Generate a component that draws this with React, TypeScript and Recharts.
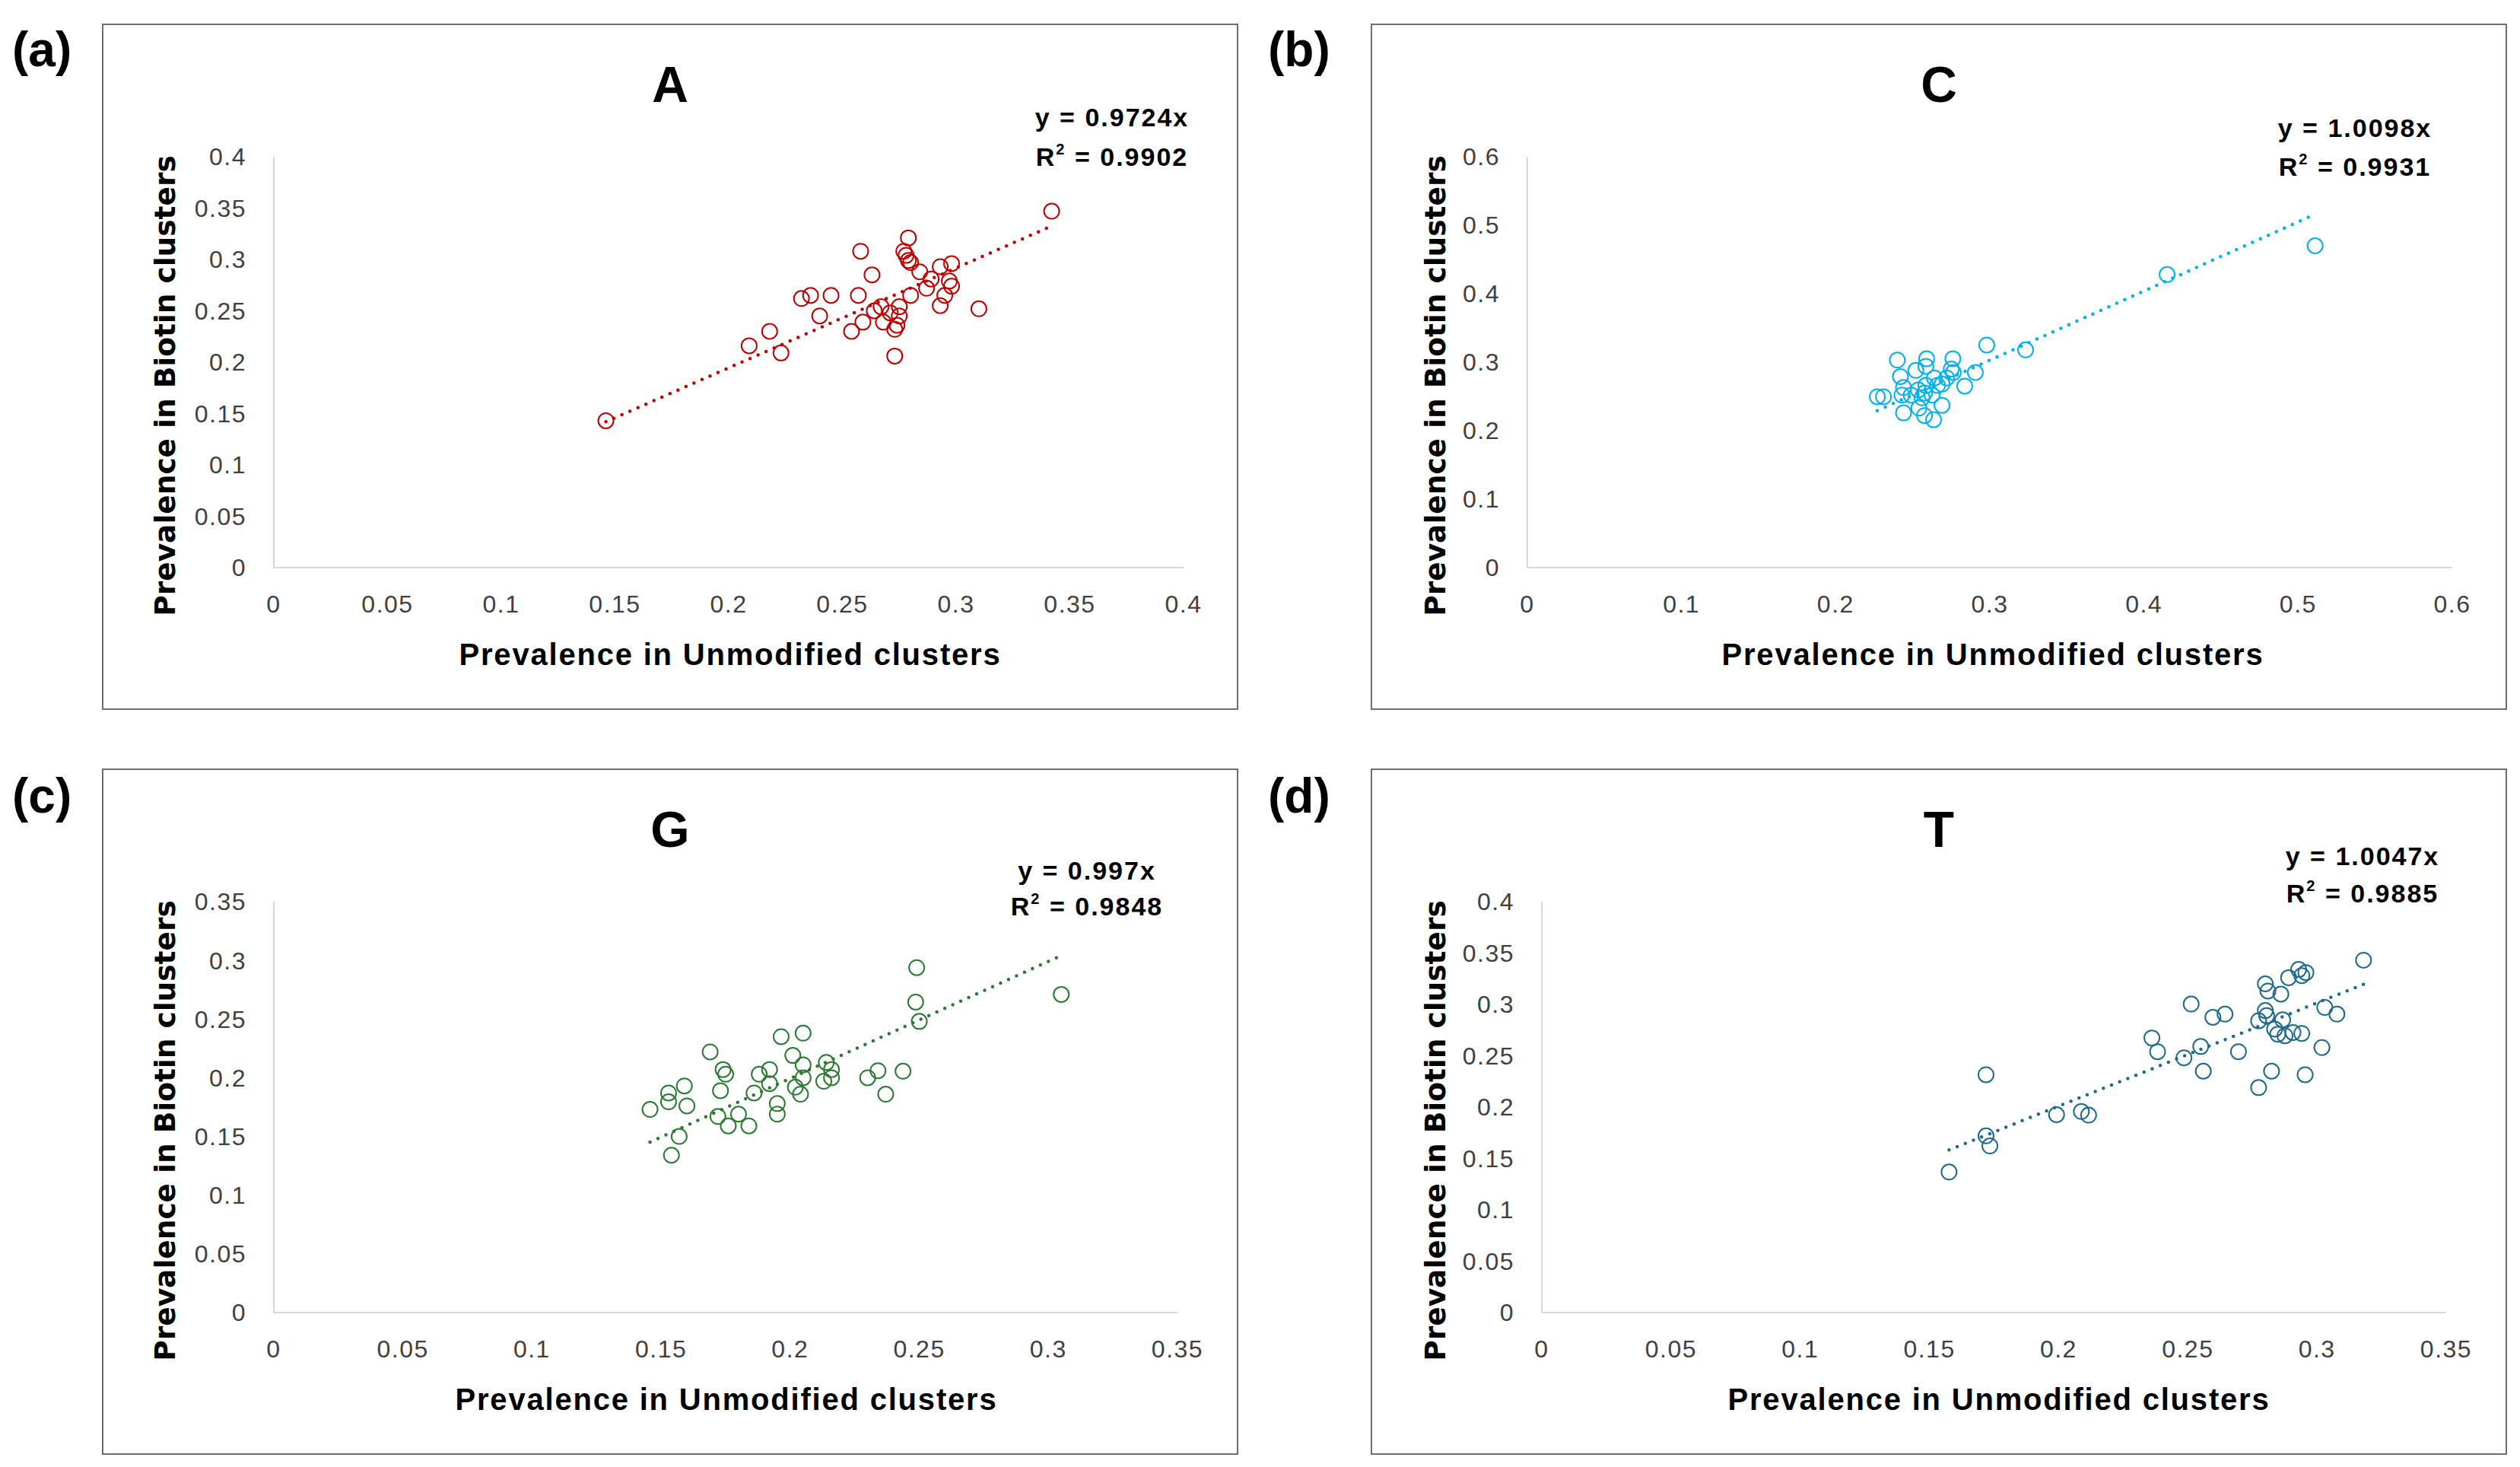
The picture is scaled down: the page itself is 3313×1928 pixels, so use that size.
import React from "react";
import { ScatterChart, Scatter, XAxis, YAxis } from "recharts";

// ---- data ----
const aX = [0.146, 0.342, 0.209, 0.218, 0.223, 0.232, 0.236, 0.24, 0.245, 0.254, 0.257, 0.258, 0.259, 0.263, 0.264, 0.267, 0.268, 0.271, 0.273, 0.273, 0.274, 0.275, 0.275, 0.277, 0.278, 0.279, 0.279, 0.28, 0.28, 0.284, 0.287, 0.289, 0.293, 0.293, 0.295, 0.297, 0.298, 0.298, 0.31];
const aY = [0.143, 0.347, 0.216, 0.23, 0.209, 0.262, 0.265, 0.245, 0.265, 0.23, 0.265, 0.308, 0.239, 0.285, 0.25, 0.254, 0.239, 0.248, 0.206, 0.232, 0.236, 0.245, 0.254, 0.308, 0.304, 0.321, 0.299, 0.297, 0.265, 0.288, 0.272, 0.281, 0.293, 0.255, 0.265, 0.279, 0.274, 0.296, 0.252];

const cX = [0.227, 0.231, 0.24, 0.242, 0.244, 0.244, 0.243, 0.252, 0.259, 0.2585, 0.2536, 0.256, 0.2576, 0.2585, 0.254, 0.2576, 0.2635, 0.264, 0.269, 0.269, 0.276, 0.275, 0.2763, 0.2837, 0.2906, 0.298, 0.3232, 0.249, 0.2625, 0.266, 0.272, 0.415, 0.511];
const cY = [0.2495, 0.2495, 0.303, 0.279, 0.263, 0.226, 0.252, 0.288, 0.305, 0.294, 0.2595, 0.248, 0.255, 0.266, 0.233, 0.222, 0.216, 0.277, 0.237, 0.268, 0.305, 0.29, 0.285, 0.265, 0.285, 0.325, 0.318, 0.252, 0.252, 0.266, 0.277, 0.428, 0.47];

const gX = [0.1457, 0.1529, 0.1529, 0.159, 0.16, 0.157, 0.154, 0.169, 0.174, 0.175, 0.173, 0.172, 0.176, 0.18, 0.184, 0.186, 0.188, 0.192, 0.192, 0.1965, 0.195, 0.195, 0.201, 0.202, 0.205, 0.205, 0.204, 0.205, 0.213, 0.214, 0.216, 0.216, 0.23, 0.234, 0.237, 0.2437, 0.2486, 0.249, 0.25, 0.305];
const gY = [0.173, 0.187, 0.1795, 0.193, 0.176, 0.15, 0.134, 0.222, 0.207, 0.203, 0.189, 0.167, 0.159, 0.169, 0.159, 0.187, 0.203, 0.207, 0.195, 0.235, 0.178, 0.169, 0.219, 0.192, 0.211, 0.2, 0.186, 0.238, 0.197, 0.213, 0.207, 0.2, 0.2, 0.206, 0.186, 0.2056, 0.2645, 0.2938, 0.248, 0.271];

const tX = [0.1576, 0.1719, 0.1719, 0.1734, 0.1992, 0.2088, 0.2116, 0.2361, 0.2383, 0.2485, 0.2513, 0.255, 0.256, 0.2597, 0.2644, 0.2696, 0.2774, 0.2774, 0.28, 0.281, 0.28, 0.2805, 0.2824, 0.2836, 0.2848, 0.286, 0.2867, 0.2876, 0.289, 0.2907, 0.2929, 0.2941, 0.2941, 0.2957, 0.2954, 0.3019, 0.303, 0.3077, 0.318];
const tY = [0.1368, 0.2315, 0.172, 0.1622, 0.1926, 0.1957, 0.1922, 0.2673, 0.2539, 0.248, 0.3003, 0.259, 0.235, 0.2874, 0.2905, 0.2539, 0.219, 0.284, 0.32, 0.313, 0.294, 0.289, 0.235, 0.276, 0.271, 0.31, 0.285, 0.2695, 0.326, 0.2726, 0.334, 0.2717, 0.328, 0.331, 0.2315, 0.258, 0.297, 0.2905, 0.343];

const ticks40 = [0, 0.05, 0.1, 0.15, 0.2, 0.25, 0.3, 0.35, 0.4];
const ticks60 = [0, 0.1, 0.2, 0.3, 0.4, 0.5, 0.6];
const ticks35 = [0, 0.05, 0.1, 0.15, 0.2, 0.25, 0.3, 0.35];

const W = 1494;
const H = 902;
const BORDER = 2;
const FONT = "'Liberation Sans', Arial, sans-serif";

type PanelProps = {
  left: number;
  top: number;
  title: string;
  color: string;
  xs: number[];
  ys: number[];
  slope: number;
  eqText: string;
  r2Text: string;
  xTicks: number[];
  yTicks: number[];
  plotL: number;
  plotR: number;
  eqX: number;
  eqY1: number;
  eqY2: number;
  yLabX: number;
  xLabX: number;
};

function Panel(p: PanelProps) {
  const innerW = W - 2 * BORDER;
  const innerH = H - 2 * BORDER;
  const plotT = 175 - BORDER;
  const plotB = 715 - BORDER;
  const points = p.xs.map((x, i) => ({ x, y: p.ys[i] }));
  const lo = Math.min(...p.xs);
  const hi = Math.max(...p.xs);
  const trend = [
    { x: lo, y: p.slope * lo },
    { x: hi, y: p.slope * hi },
  ];
  const tick = { fontSize: 32, fill: "#404040", fontFamily: FONT, letterSpacing: 1.5 };

  return (
    <div
      style={{
        position: "absolute",
        left: p.left,
        top: p.top,
        width: W,
        height: H,
        boxSizing: "border-box",
        border: `${BORDER}px solid #6e6e6e`,
        background: "#fff",
        fontFamily: FONT,
      }}
    >
      <ScatterChart
        width={innerW}
        height={innerH}
        margin={{
          top: plotT,
          bottom: innerH - plotB - 30,
          left: p.plotL - BORDER - 60,
          right: innerW - (p.plotR - BORDER),
        }}
      >
        <XAxis
          type="number"
          dataKey="x"
          domain={[p.xTicks[0], p.xTicks[p.xTicks.length - 1]]}
          ticks={p.xTicks}
          interval={0}
          tickLine={false}
          tickSize={0}
          tickMargin={36}
          axisLine={{ stroke: "#d9d9d9", strokeWidth: 2 }}
          tick={tick}
          height={30}
        />
        <YAxis
          type="number"
          dataKey="y"
          domain={[p.yTicks[0], p.yTicks[p.yTicks.length - 1]]}
          ticks={p.yTicks}
          interval={0}
          tickLine={false}
          tickSize={0}
          tickMargin={36}
          axisLine={{ stroke: "#d9d9d9", strokeWidth: 2 }}
          tick={tick}
          width={60}
        />
        <Scatter
          data={trend}
          isAnimationActive={false}
          line={{ stroke: p.color, strokeWidth: 4.5, strokeDasharray: "0 11.5", strokeLinecap: "round" }}
          shape={() => <g />}
        />
        <Scatter
          data={points}
          isAnimationActive={false}
          shape={(s: any) => (
            <circle cx={s.cx} cy={s.cy} r={10} fill="none" stroke={p.color} strokeWidth={2} />
          )}
        />
      </ScatterChart>

      <div
        style={{
          position: "absolute",
          left: 0,
          width: W - 2 * BORDER,
          top: 78 - 33,
          fontSize: 66,
          lineHeight: 1,
          fontWeight: 700,
          textAlign: "center",
          color: "#000",
        }}
      >
        {p.title}
      </div>

      <div
        style={{
          position: "absolute",
          left: p.eqX - 200,
          top: 0,
          width: 400,
          textAlign: "center",
          fontSize: 34,
          fontWeight: 700,
          letterSpacing: 2,
          lineHeight: 1,
          color: "#000",
        }}
      >
        <div style={{ position: "absolute", left: 0, width: 400, top: p.eqY1 - 29 }}>{p.eqText}</div>
        <div style={{ position: "absolute", left: 0, width: 400, top: p.eqY2 - 29 }}>
          R<sup style={{ fontSize: 20, verticalAlign: 0, position: "relative", top: -15 }}>2</sup> = {p.r2Text}
        </div>
      </div>

      <div
        style={{
          position: "absolute",
          left: p.xLabX - 500,
          width: 1000,
          top: 827 - 20,
          textAlign: "center",
          fontSize: 40,
          fontWeight: 700,
          letterSpacing: 1.8,
          lineHeight: 1,
          color: "#000",
          whiteSpace: "nowrap",
        }}
      >
        Prevalence in Unmodified clusters
      </div>

      <div
        style={{
          position: "absolute",
          left: p.yLabX - 400,
          top: 474 - 20,
          width: 800,
          height: 40,
          lineHeight: "40px",
          textAlign: "center",
          fontSize: 37.5,
          fontWeight: 700,
          fontFamily: "'DejaVu Sans', Verdana, sans-serif",
          color: "#000",
          whiteSpace: "nowrap",
          transform: "rotate(-90deg)",
        }}
      >
        Prevalence in Biotin clusters
      </div>
    </div>
  );
}

function Tag({ text, left, cy }: { text: string; left: number; cy: number }) {
  return (
    <div
      style={{
        position: "absolute",
        left,
        top: cy - 32,
        fontSize: 64,
        lineHeight: 1,
        fontWeight: 700,
        fontFamily: FONT,
        color: "#000",
      }}
    >
      {text}
    </div>
  );
}

export default function App() {
  return (
    <div style={{ position: "absolute", left: 0, top: 0, width: 3313, height: 1928, background: "#fff" }}>
      <Tag text="(a)" left={16} cy={65} />
      <Tag text="(b)" left={1667} cy={65} />
      <Tag text="(c)" left={16} cy={1046} />
      <Tag text="(d)" left={1667} cy={1046} />

      <Panel
        left={134}
        top={31}
        title="A"
        color="#c00000"
        xs={aX}
        ys={aY}
        slope={0.9724}
        eqText="y = 0.9724x"
        r2Text="0.9902"
        xTicks={ticks40}
        yTicks={ticks40}
        plotL={226}
        plotR={1422}
        eqX={1326}
        eqY1={133}
        eqY2={185}
        yLabX={81}
        xLabX={824}
      />
      <Panel
        left={1802}
        top={31}
        title="C"
        color="#00b0f0"
        xs={cX}
        ys={cY}
        slope={1.0098}
        eqText="y = 1.0098x"
        r2Text="0.9931"
        xTicks={ticks60}
        yTicks={ticks60}
        plotL={206}
        plotR={1422}
        eqX={1292}
        eqY1={147}
        eqY2={198}
        yLabX={83}
        xLabX={816}
      />
      <Panel
        left={134}
        top={1010}
        title="G"
        color="#2a7a31"
        xs={gX}
        ys={gY}
        slope={0.997}
        eqText="y = 0.997x"
        r2Text="0.9848"
        xTicks={ticks35}
        yTicks={ticks35}
        plotL={226}
        plotR={1414}
        eqX={1293}
        eqY1={144}
        eqY2={191}
        yLabX={81}
        xLabX={819}
      />
      <Panel
        left={1802}
        top={1010}
        title="T"
        color="#1f6a8c"
        xs={tX}
        ys={tY}
        slope={1.0047}
        eqText="y = 1.0047x"
        r2Text="0.9885"
        xTicks={ticks35}
        yTicks={ticks40}
        plotL={225}
        plotR={1414}
        eqX={1302}
        eqY1={125}
        eqY2={174}
        yLabX={83}
        xLabX={824}
      />
    </div>
  );
}
